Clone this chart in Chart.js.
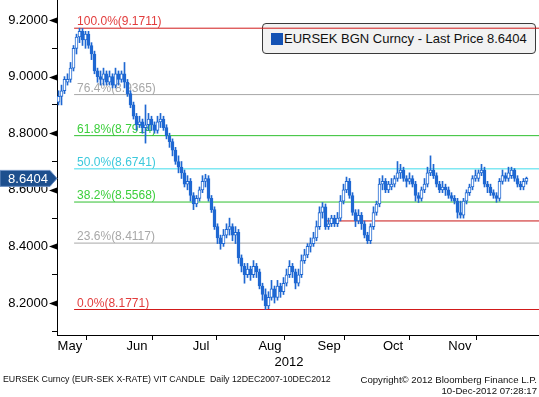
<!DOCTYPE html>
<html><head><meta charset="utf-8">
<script src="https://cdn.jsdelivr.net/npm/chart.js@4.4.0/dist/chart.umd.min.js"></script>
<style>
html,body{margin:0;padding:0;background:#fff;}
#wrap{position:relative;width:539px;height:397px;overflow:hidden;font-family:'Liberation Sans',Arial,sans-serif;}
#c{position:absolute;left:0;top:0;z-index:2;}
#legend{position:absolute;left:262px;top:23px;width:272px;height:29px;border:1px solid #3a3a3a;border-radius:4px;background:#f2f2f2;z-index:1;}
#legend .sw{position:absolute;left:8px;top:9px;width:12px;height:12px;background:#1452b4;}
#legend .tx{position:absolute;left:21px;top:7px;font-size:13px;line-height:15px;color:#111;white-space:nowrap;}
.foot{position:absolute;font-size:9px;line-height:11px;color:#111;white-space:nowrap;z-index:3;}
</style></head><body>
<div id="wrap">
<div id="legend"><div class="sw"></div><div class="tx">EURSEK BGN Curncy - Last Price 8.6404</div></div>
<canvas id="c" width="539" height="397"></canvas>
<div class="foot" style="left:3px;top:374px;font-size:8.8px;">EURSEK Curncy (EUR-SEK X-RATE) VIT CANDLE&nbsp; Daily 12DEC2007-10DEC2012</div>
<div class="foot" style="right:2px;top:374px;text-align:right;font-size:9.6px;">Copyright© 2012 Bloomberg Finance L.P.<br>10-Dec-2012 07:28:17</div>
</div>
<script>
// ---- data (trading-day index 0..156, mid-May to 10-Dec-2012) ----
const opens = [8.91,8.93,8.95,8.98,8.99,9.03,9.10,9.14,9.16,9.13,
9.15,9.11,9.08,9.02,9.00,8.99,9.01,8.98,9.00,8.97,
9.01,8.99,9.01,8.98,8.94,8.90,8.86,8.83,8.84,8.82,
8.83,8.85,8.83,8.81,8.84,8.85,8.82,8.79,8.77,8.74,
8.70,8.68,8.66,8.62,8.63,8.58,8.55,8.57,8.60,8.63,
8.64,8.57,8.53,8.47,8.43,8.41,8.44,8.46,8.47,8.44,
8.45,8.36,8.33,8.30,8.32,8.30,8.33,8.31,8.26,8.23,
8.19,8.22,8.25,8.22,8.26,8.24,8.27,8.30,8.33,8.31,
8.27,8.30,8.35,8.37,8.40,8.41,8.43,8.47,8.52,8.54,
8.47,8.48,8.50,8.48,8.50,8.56,8.60,8.63,8.58,8.52,
8.49,8.51,8.48,8.44,8.42,8.47,8.52,8.55,8.62,8.63,
8.60,8.61,8.62,8.64,8.66,8.67,8.64,8.63,8.64,8.62,
8.58,8.57,8.60,8.62,8.66,8.67,8.65,8.62,8.60,8.61,
8.60,8.58,8.57,8.56,8.52,8.51,8.56,8.59,8.61,8.64,
8.64,8.66,8.67,8.62,8.61,8.59,8.58,8.57,8.63,8.65,
8.64,8.65,8.67,8.64,8.62,8.61,8.63];
const highs = [8.95,8.97,9.00,9.01,9.05,9.11,9.15,9.1711,9.17,9.16,
9.16,9.12,9.09,9.03,9.02,9.03,9.02,9.02,9.01,9.03,
9.02,9.02,9.05,8.99,8.95,8.91,8.87,8.86,8.85,8.90,
8.87,8.86,8.84,8.86,8.87,8.86,8.83,8.80,8.78,8.75,
8.72,8.70,8.67,8.65,8.64,8.59,8.58,8.61,8.65,8.655,
8.65,8.58,8.54,8.48,8.44,8.46,8.48,8.50,8.48,8.47,
8.46,8.37,8.34,8.34,8.33,8.35,8.34,8.32,8.27,8.25,
8.24,8.28,8.26,8.28,8.27,8.29,8.32,8.35,8.34,8.32,
8.32,8.37,8.39,8.41,8.43,8.45,8.49,8.54,8.555,8.55,
8.50,8.51,8.51,8.52,8.58,8.62,8.645,8.64,8.59,8.53,
8.53,8.52,8.49,8.45,8.48,8.54,8.56,8.64,8.65,8.64,
8.63,8.64,8.65,8.70,8.69,8.68,8.65,8.66,8.65,8.63,
8.59,8.61,8.64,8.68,8.72,8.69,8.66,8.63,8.63,8.62,
8.61,8.59,8.58,8.57,8.56,8.57,8.60,8.62,8.65,8.67,
8.67,8.69,8.68,8.63,8.62,8.60,8.59,8.64,8.67,8.66,
8.68,8.68,8.675,8.65,8.63,8.64,8.645];
const lows = [8.90,8.90,8.94,8.97,8.98,9.02,9.08,9.12,9.11,9.10,
9.10,9.06,9.01,8.98,8.97,8.97,8.97,8.97,8.96,8.96,
8.97,8.98,8.96,8.93,8.89,8.85,8.81,8.82,8.80,8.765,
8.81,8.81,8.80,8.80,8.82,8.81,8.78,8.75,8.72,8.69,
8.66,8.64,8.61,8.60,8.56,8.53,8.54,8.56,8.59,8.61,
8.56,8.52,8.46,8.41,8.39,8.40,8.43,8.44,8.42,8.41,
8.34,8.31,8.27,8.29,8.28,8.29,8.29,8.25,8.21,8.1771,
8.18,8.21,8.20,8.21,8.22,8.23,8.26,8.29,8.29,8.25,
8.26,8.29,8.34,8.36,8.38,8.40,8.42,8.46,8.50,8.46,
8.46,8.47,8.47,8.47,8.49,8.55,8.59,8.57,8.51,8.47,
8.48,8.46,8.43,8.41,8.41,8.46,8.51,8.54,8.60,8.59,
8.59,8.60,8.61,8.63,8.64,8.63,8.61,8.62,8.61,8.56,
8.555,8.56,8.59,8.61,8.65,8.64,8.61,8.59,8.59,8.58,
8.57,8.56,8.55,8.50,8.50,8.50,8.55,8.58,8.60,8.63,
8.63,8.65,8.61,8.59,8.58,8.57,8.556,8.56,8.62,8.63,
8.63,8.64,8.63,8.61,8.60,8.60,8.62];
const closes = [8.93,8.95,8.99,8.99,9.03,9.10,9.14,9.16,9.13,9.15,
9.11,9.08,9.02,9.00,8.99,9.01,8.98,9.00,8.97,9.01,
8.99,9.01,8.98,8.94,8.90,8.86,8.83,8.84,8.82,8.83,
8.85,8.83,8.81,8.84,8.85,8.82,8.79,8.77,8.74,8.70,
8.68,8.66,8.62,8.63,8.58,8.55,8.57,8.60,8.63,8.64,
8.57,8.53,8.47,8.43,8.41,8.44,8.46,8.47,8.44,8.45,
8.36,8.33,8.30,8.32,8.30,8.33,8.31,8.26,8.23,8.19,
8.22,8.25,8.22,8.26,8.24,8.27,8.30,8.33,8.31,8.27,
8.30,8.35,8.37,8.40,8.41,8.43,8.47,8.52,8.54,8.47,
8.48,8.50,8.48,8.50,8.56,8.60,8.63,8.58,8.52,8.49,
8.51,8.48,8.44,8.42,8.47,8.52,8.55,8.62,8.63,8.60,
8.62,8.62,8.64,8.66,8.67,8.64,8.63,8.64,8.62,8.58,
8.57,8.60,8.62,8.66,8.67,8.65,8.62,8.60,8.61,8.60,
8.58,8.57,8.56,8.52,8.51,8.56,8.59,8.61,8.64,8.65,
8.66,8.67,8.62,8.61,8.59,8.58,8.57,8.63,8.65,8.64,
8.66,8.67,8.64,8.62,8.61,8.63,8.6404];

const fibLabels = ['100.0%(9.1711)','76.4%(8.9365)','61.8%(8.7914)','50.0%(8.6741)','38.2%(8.5568)','23.6%(8.4117)','0.0%(8.1771)'];
const fibValues = [9.1711, 8.9365, 8.7914, 8.6741, 8.5568, 8.4117, 8.1771];
const fibStartIdx = 5.2;
const supportValue = 8.49;
const supportStartIdx = 89.5;

const monthLabels = ['May','Jun','Jul','Aug','Sep','Oct','Nov'];
const monthLabelIdx = [3.8, 26.2, 47.5, 70.5, 90.2, 111.5, 133.8];
const monthBoundaryIdx = [15.2, 36.2, 57.8, 80.5, 100.2, 122.2, 144.8];
const yearLabel = '2012';
const yearIdx = 76.8;

const yMajorTicks = [8.2, 8.4, 8.6, 8.8, 9.0, 9.2];
const yMajorLabels = ['8.2000','8.4000','8.6000','8.8000','9.0000','9.2000'];
const yMinorTicks = [8.1, 8.3, 8.5, 8.7, 8.9, 9.1];
const lastPriceLabel = '8.6404';

// ---- styling ----
const X_MIN = -0.5, X_MAX = 160.1667;
const Y_MIN = 8.087, Y_MAX = 9.2707;
const BLUE = '#1f68d2';
const fibLineColors = ['#d11a1a','#a8a8a8','#2fbf2f','#3fdcec','#2fbf2f','#a8a8a8','#d11a1a'];
const fibTextColors = ['#e23c3c','#a8a8a8','#3ccf3c','#3cc9dc','#3ccf3c','#a8a8a8','#e23c3c'];

Chart.defaults.font.family = "'Liberation Sans', Arial, sans-serif";

const wickData = highs.map((h, i) => ({x: i, y: [lows[i], h]}));
const bodyData = opens.map((o, i) => ({x: i, y: [Math.min(o, closes[i]), Math.max(o, closes[i])]}));

const datasets = [];
fibValues.forEach((v, k) => {
  datasets.push({type: 'line', data: [{x: fibStartIdx, y: v}, {x: X_MAX, y: v}],
    borderColor: fibLineColors[k], borderWidth: 1, pointRadius: 0, order: 5, clip: false});
});
datasets.push({type: 'line', data: [{x: supportStartIdx, y: supportValue}, {x: X_MAX, y: supportValue}],
  borderColor: '#c81414', borderWidth: 1, pointRadius: 0, order: 5});
datasets.push({type: 'bar', data: wickData, backgroundColor: BLUE, borderWidth: 0,
  barThickness: 1, grouped: false, order: 2});
datasets.push({type: 'bar', data: bodyData,
  backgroundColor: ctx => (closes[ctx.dataIndex] >= opens[ctx.dataIndex] ? '#ffffff' : BLUE),
  borderColor: BLUE, borderWidth: 1, borderSkipped: false, barThickness: 3,
  minBarLength: 1, grouped: false, order: 1});

const near = (arr, v) => arr.findIndex(a => Math.abs(a - v) < 1e-6);

const decorPlugin = {
  id: 'decor',
  beforeDatasetsDraw(chart) {
    const {ctx, scales: {x, y}} = chart;
    ctx.save();
    ctx.font = "12px 'Liberation Sans', Arial, sans-serif";
    ctx.textBaseline = 'alphabetic';
    ctx.textAlign = 'left';
    fibValues.forEach((v, k) => {
      ctx.fillStyle = fibTextColors[k];
      ctx.fillText(fibLabels[k], x.getPixelForValue(fibStartIdx) + 3, y.getPixelForValue(v) - 3);
    });
    ctx.restore();
  },
  afterDraw(chart) {
    const {ctx, scales: {y}, chartArea} = chart;
    const ax = chartArea.left;
    ctx.save();
    ctx.fillStyle = '#000';
    yMajorTicks.forEach(v => {
      const py = Math.round(y.getPixelForValue(v)) + 0.5;
      ctx.beginPath();
      ctx.moveTo(ax - 8, py);
      ctx.lineTo(ax, py - 3);
      ctx.lineTo(ax, py + 3);
      ctx.closePath();
      ctx.fill();
    });
    const py = y.getPixelForValue(closes[closes.length - 1]);
    ctx.beginPath();
    ctx.moveTo(0, py - 8);
    ctx.lineTo(ax - 7, py - 8);
    ctx.lineTo(ax, py);
    ctx.lineTo(ax - 7, py + 8);
    ctx.lineTo(0, py + 8);
    ctx.closePath();
    ctx.fillStyle = '#1d4f8e';
    ctx.fill();
    ctx.strokeStyle = '#7093c6';
    ctx.lineWidth = 1;
    ctx.stroke();
    ctx.fillStyle = '#fff';
    ctx.font = "13px 'Liberation Sans', Arial, sans-serif";
    ctx.textAlign = 'center';
    ctx.textBaseline = 'middle';
    ctx.fillText(lastPriceLabel, 28, py + 1);
    ctx.restore();
  }
};

new Chart(document.getElementById('c'), {
  type: 'bar',
  data: {datasets},
  plugins: [decorPlugin],
  options: {
    responsive: false, animation: false, devicePixelRatio: 1,
    layout: {padding: {left: 0, right: 0, top: 0, bottom: 28}},
    plugins: {legend: {display: false}, tooltip: {enabled: false}},
    scales: {
      x: {
        type: 'linear', position: 'bottom', min: X_MIN, max: X_MAX, offset: false,
        afterBuildTicks: ax => {
          ax.ticks = monthBoundaryIdx.concat(monthLabelIdx).sort((a, b) => a - b).map(v => ({value: v}));
        },
        afterFit: ax => { ax.height = 18; ax.paddingLeft = 0; ax.paddingRight = 0; },
        grid: {drawOnChartArea: false, drawTicks: true, tickLength: 5,
          color: ctx => (ctx.tick && near(monthBoundaryIdx, ctx.tick.value) >= 0) ? '#000' : 'rgba(0,0,0,0)'},
        border: {display: true, color: '#000', width: 1},
        ticks: {autoSkip: false, maxRotation: 0, padding: -1, color: '#000', font: {size: 13},
          callback: v => { const k = near(monthLabelIdx, v); return k >= 0 ? monthLabels[k] : ''; }}
      },
      x2: {
        type: 'linear', position: 'bottom', min: X_MIN, max: X_MAX, offset: false,
        afterBuildTicks: ax => { ax.ticks = [{value: yearIdx}]; },
        afterFit: ax => { ax.height = 16; ax.paddingLeft = 0; ax.paddingRight = 0; },
        grid: {display: false, drawTicks: false}, border: {display: false},
        ticks: {autoSkip: false, maxRotation: 0, padding: 2, color: '#000', font: {size: 13},
          callback: () => yearLabel}
      },
      y: {
        type: 'linear', position: 'left', min: Y_MIN, max: Y_MAX,
        afterBuildTicks: ax => {
          ax.ticks = yMinorTicks.concat(yMajorTicks).sort((a, b) => a - b).map(v => ({value: v}));
        },
        afterFit: ax => { ax.width = 57; ax.paddingTop = 0; ax.paddingBottom = 0; },
        grid: {drawOnChartArea: false, drawTicks: true, tickLength: 5,
          color: ctx => (ctx.tick && near(yMajorTicks, ctx.tick.value) >= 0) ? 'rgba(0,0,0,0)' : '#000'},
        border: {display: true, color: '#000', width: 1},
        ticks: {padding: 4, color: '#000', font: {size: 13},
          callback: v => { const k = near(yMajorTicks, v); return k >= 0 ? yMajorLabels[k] : ''; }}
      }
    }
  }
});
</script>
</body></html>
